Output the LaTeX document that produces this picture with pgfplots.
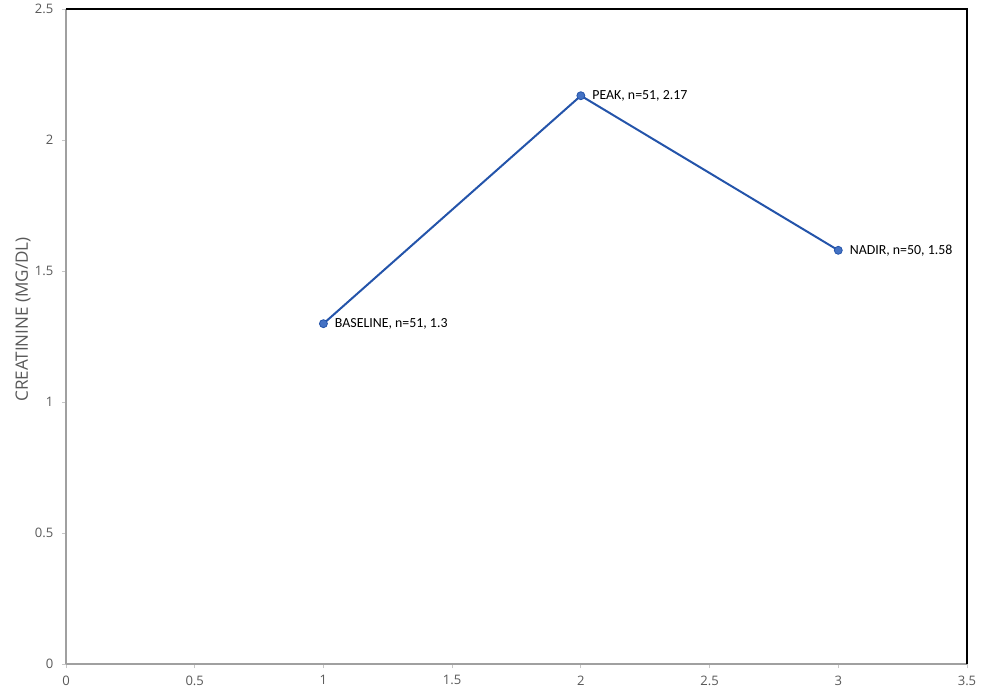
\documentclass[border=0pt]{standalone}
\usepackage{pgfplots}
\pgfplotsset{compat=1.18}
\usepackage{fontspec}
\setmainfont{Open Sans}
\newfontfamily\lblfont{Carlito}
\definecolor{tickgray}{RGB}{89,89,89}
\definecolor{axgray}{RGB}{160,160,160}
\definecolor{lineblue}{RGB}{36,84,170}
\definecolor{markblue}{RGB}{68,114,196}
\begin{document}
\begin{tikzpicture}
\begin{axis}[
  name=ax,
  scale only axis,
  width=675.75pt, height=491.25pt,
  xmin=0, xmax=3.5, ymin=0, ymax=2.5,
  xtick={0,0.5,...,3.5}, ytick={0,0.5,...,2.5},
  axis x line*=bottom, axis y line*=left,
  axis line style={axgray, line width=1.3pt, -},
  tick align=outside,
  major tick length=3pt,
  tick style={axgray!60, line width=0.6pt},
  /pgf/number format/assume math mode=true,
  /pgf/number format/.cd, fixed, precision=1, /pgfplots/.cd,
  ticklabel style={font=\fontsize{9.8}{11}\selectfont, text=tickgray},
  xticklabel style={yshift=-2pt},
  yticklabel style={xshift=-3pt},
  ylabel={CREATININE (MG/DL)},
  every axis y label/.style={at={(ticklabel cs:0.5)}, rotate=90, anchor=center, xshift=13pt, yshift=5.5pt, font=\fontsize{12.8}{14}\selectfont, text=tickgray},
  clip=false,
]
\draw[black, line width=1.3pt] (axis cs:0,2.5) -- (axis cs:3.5,2.5) -- (axis cs:3.5,0);
\addplot[lineblue, line width=1.5pt, mark=*, mark size=3pt,
  mark options={fill=markblue, draw=lineblue, line width=0.6pt},
  point meta=explicit symbolic,
  nodes near coords,
  nodes near coords style={anchor=west, xshift=5pt, yshift=-0.3pt, font=\lblfont\fontsize{10.4}{11}\selectfont, text=black},
] coordinates {
  (1,1.3) [{BASELINE, n=51, 1.3}]
  (2,2.17) [{PEAK, n=51, 2.17}]
  (3,1.58) [{NADIR, n=50, 1.58}]
};
\end{axis}
\path[use as bounding box] ([xshift=-49.5pt,yshift=-23.25pt]ax.south west) rectangle ([xshift=14.25pt,yshift=5.25pt]ax.north east);
\end{tikzpicture}
\end{document}
